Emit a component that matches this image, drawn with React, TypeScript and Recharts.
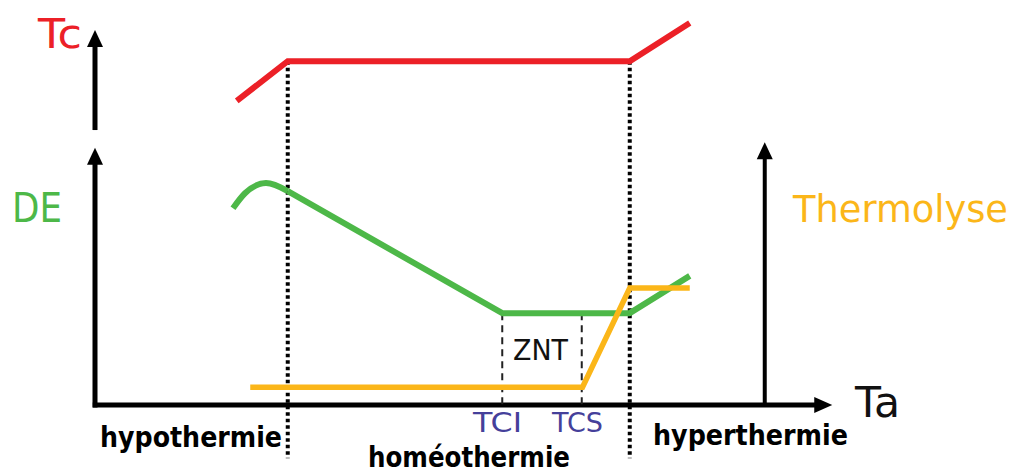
import { LineChart, Line, XAxis, YAxis, ReferenceLine, ReferenceDot } from 'recharts';

// schematic units: Ta on x (0 = origin, 100 = end of axis), response on y
const tcTa = [18.9, 25.7, 71.3, 79.3];
const tcVal = [75.1, 84.9, 84.9, 94.3];

const deHumpTa = [18.4, 20.0, 22.8, 25.7];
const deHumpVal = [48.6, 52.3, 54.8, 52.8];
const deTa = [25.7, 54.3, 71.3, 79.3];
const deVal = [52.8, 22.7, 22.7, 31.9];

const thermoTa = [20.7, 65.0, 71.3, 79.3];
const thermoVal = [4.4, 4.4, 28.9, 28.9];

const zoneBounds = [25.7, 71.3]; // hypothermie | homéothermie | hyperthermie
const zntBounds = [54.3, 64.9]; // TCI, TCS
const zoneLabels = ['hypothermie', 'homéothermie', 'hyperthermie'];
const tempLabels = ['TCI', 'TCS'];

const RED = '#ec2027';
const GREEN = '#4db848';
const ORANGE = '#fbb619';
const BLUE = '#45409a';

const pts = (xs: number[], ys: number[]) => xs.map((x, i) => ({ x, y: ys[i] }));

const upHead = (p: any) => (
  <polygon points={`${p.cx},${p.cy} ${p.cx - 8},${p.cy + 17} ${p.cx + 8},${p.cy + 17}`} fill="#000" />
);
const rightHead = (p: any) => (
  <polygon points={`${p.cx},${p.cy} ${p.cx - 18},${p.cy - 8} ${p.cx - 18},${p.cy + 8}`} fill="#000" />
);

const font = '"DejaVu Sans", Verdana, sans-serif';

export default function App() {
  return (
    <div style={{ position: 'absolute', left: 0, top: 0, width: 1016, height: 476, background: '#fff' }}>
      <LineChart width={1016} height={476} margin={{ top: 0, right: 171, bottom: 0, left: 95 }}>
        <XAxis type="number" dataKey="x" domain={[0, 100]} hide allowDataOverflow />
        <YAxis type="number" dataKey="y" domain={[-17.5, 100]} hide allowDataOverflow />

        {/* axes */}
        <ReferenceLine segment={[{ x: -0.3, y: 0 }, { x: 96, y: 0 }]} stroke="#000" strokeWidth={5} ifOverflow="visible" />
        <ReferenceLine segment={[{ x: 0, y: -0.6 }, { x: 0, y: 61 }]} stroke="#000" strokeWidth={5} ifOverflow="visible" />
        <ReferenceLine segment={[{ x: 0, y: 67.9 }, { x: 0, y: 90 }]} stroke="#000" strokeWidth={5} ifOverflow="visible" />
        <ReferenceLine segment={[{ x: 89.3, y: 0 }, { x: 89.3, y: 62 }]} stroke="#000" strokeWidth={4} ifOverflow="visible" />
        <ReferenceDot x={98.3} y={0} shape={rightHead} ifOverflow="visible" />
        <ReferenceDot x={0} y={63.5} shape={upHead} ifOverflow="visible" />
        <ReferenceDot x={0} y={92.6} shape={upHead} ifOverflow="visible" />
        <ReferenceDot x={89.3} y={64.9} shape={upHead} ifOverflow="visible" />

        {/* zone separators */}
        {zoneBounds.map((b) => (
          <ReferenceLine
            key={'z' + b}
            segment={[{ x: b, y: 84.9 }, { x: b, y: -13.1 }]}
            stroke="#000"
            strokeWidth={4}
            strokeDasharray="3.5 3"
            ifOverflow="visible"
          />
        ))}
        {zntBounds.map((b) => (
          <ReferenceLine
            key={'n' + b}
            segment={[{ x: b, y: 22.7 }, { x: b, y: 0 }]}
            stroke="#222"
            strokeWidth={2}
            strokeDasharray="7 5"
            ifOverflow="visible"
          />
        ))}

        <Line data={pts(tcTa, tcVal)} dataKey="y" type="linear" stroke={RED} strokeWidth={6} dot={false} activeDot={false} isAnimationActive={false} />
        <Line data={pts(deHumpTa, deHumpVal)} dataKey="y" type="monotone" stroke={GREEN} strokeWidth={6} dot={false} activeDot={false} isAnimationActive={false} />
        <Line data={pts(deTa, deVal)} dataKey="y" type="linear" stroke={GREEN} strokeWidth={6} strokeLinejoin="round" dot={false} activeDot={false} isAnimationActive={false} />
        <Line data={pts(thermoTa, thermoVal)} dataKey="y" type="linear" stroke={ORANGE} strokeWidth={5.5} dot={false} activeDot={false} isAnimationActive={false} />
      </LineChart>

      <svg width={1016} height={476} style={{ position: 'absolute', left: 0, top: 0, pointerEvents: 'none' }} fontFamily={font}>
        <text x={38} y={48} fontSize={40} fill={RED} textLength={44} lengthAdjust="spacingAndGlyphs">Tc</text>
        <text x={12} y={222} fontSize={40} fill={GREEN} textLength={50} lengthAdjust="spacingAndGlyphs">DE</text>
        <text x={793} y={222} fontSize={37} fill={ORANGE} textLength={215} lengthAdjust="spacingAndGlyphs">Thermolyse</text>
        <text x={855} y={417} fontSize={42} fill="#111" textLength={45} lengthAdjust="spacingAndGlyphs">Ta</text>
        <text x={513} y={360} fontSize={29} fill="#111" textLength={55} lengthAdjust="spacingAndGlyphs">ZNT</text>
        <text x={473} y={432} fontSize={27} fill={BLUE} textLength={49} lengthAdjust="spacingAndGlyphs">{tempLabels[0]}</text>
        <text x={552} y={432} fontSize={27} fill={BLUE} textLength={51} lengthAdjust="spacingAndGlyphs">{tempLabels[1]}</text>
        <text x={100} y={447} fontSize={28} fontWeight="bold" fill="#000" textLength={182} lengthAdjust="spacingAndGlyphs">{zoneLabels[0]}</text>
        <text x={368} y={467} fontSize={28} fontWeight="bold" fill="#000" textLength={202} lengthAdjust="spacingAndGlyphs">{zoneLabels[1]}</text>
        <text x={653} y={445} fontSize={28} fontWeight="bold" fill="#000" textLength={195} lengthAdjust="spacingAndGlyphs">{zoneLabels[2]}</text>
      </svg>
    </div>
  );
}
